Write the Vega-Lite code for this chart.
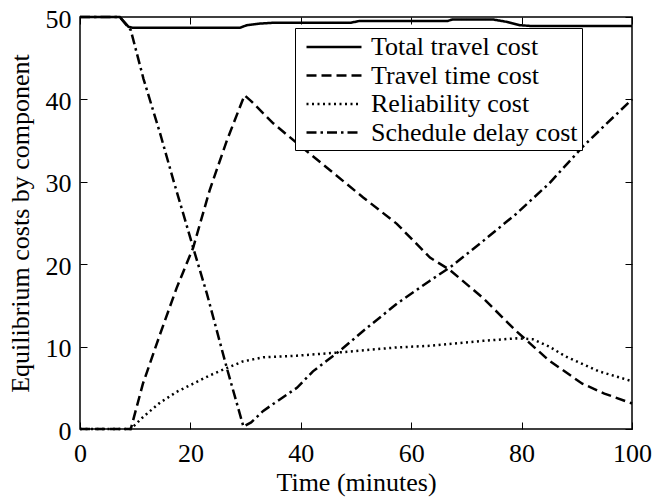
{
  "$schema": "https://vega.github.io/schema/vega-lite/v6.json",
  "width": 552,
  "height": 412,
  "autosize": {"type": "none"},
  "padding": {"left": 80, "top": 17, "right": 20, "bottom": 68},
  "background": "white",
  "config": {
    "font": "'Liberation Serif', 'DejaVu Serif', serif",
    "view": {"stroke": "black", "strokeWidth": 1.5},
    "axis": {
      "labelFont": "'Liberation Serif', 'DejaVu Serif', serif",
      "labelFontSize": 26,
      "labelColor": "black",
      "titleFont": "'Liberation Serif', 'DejaVu Serif', serif",
      "titleFontSize": 26,
      "titleFontWeight": "normal",
      "titleColor": "black",
      "tickColor": "black",
      "tickWidth": 1,
      "tickSize": -7,
      "grid": false,
      "domain": false
    },
    "legend": {"strokeWidth": 1}
  },
  "data": {
    "values": [
      {"t": 0, "v": 50, "s": "Total travel cost"},
      {"t": 7.2, "v": 50, "s": "Total travel cost"},
      {"t": 8.8, "v": 48.8, "s": "Total travel cost"},
      {"t": 9.5, "v": 48.7, "s": "Total travel cost"},
      {"t": 29, "v": 48.7, "s": "Total travel cost"},
      {"t": 30.2, "v": 49.0, "s": "Total travel cost"},
      {"t": 32.6, "v": 49.2, "s": "Total travel cost"},
      {"t": 35, "v": 49.3, "s": "Total travel cost"},
      {"t": 49, "v": 49.3, "s": "Total travel cost"},
      {"t": 50.5, "v": 49.5, "s": "Total travel cost"},
      {"t": 66.5, "v": 49.5, "s": "Total travel cost"},
      {"t": 67.5, "v": 49.7, "s": "Total travel cost"},
      {"t": 74.8, "v": 49.7, "s": "Total travel cost"},
      {"t": 77.4, "v": 49.4, "s": "Total travel cost"},
      {"t": 79.7, "v": 49.0, "s": "Total travel cost"},
      {"t": 82, "v": 48.9, "s": "Total travel cost"},
      {"t": 100, "v": 48.9, "s": "Total travel cost"},

      {"t": 0, "v": 0, "s": "Travel time cost"},
      {"t": 9.2, "v": 0, "s": "Travel time cost"},
      {"t": 11.4, "v": 5.5, "s": "Travel time cost"},
      {"t": 14.5, "v": 11.5, "s": "Travel time cost"},
      {"t": 17.5, "v": 17.1, "s": "Travel time cost"},
      {"t": 20.5, "v": 22, "s": "Travel time cost"},
      {"t": 23.5, "v": 29, "s": "Travel time cost"},
      {"t": 26.6, "v": 35, "s": "Travel time cost"},
      {"t": 29.8, "v": 40.5, "s": "Travel time cost"},
      {"t": 31, "v": 39.8, "s": "Travel time cost"},
      {"t": 35, "v": 37.1, "s": "Travel time cost"},
      {"t": 40, "v": 34.3, "s": "Travel time cost"},
      {"t": 45.3, "v": 31.4, "s": "Travel time cost"},
      {"t": 51.3, "v": 28.1, "s": "Travel time cost"},
      {"t": 57.4, "v": 24.9, "s": "Travel time cost"},
      {"t": 63.4, "v": 20.8, "s": "Travel time cost"},
      {"t": 67, "v": 19.3, "s": "Travel time cost"},
      {"t": 73, "v": 15.9, "s": "Travel time cost"},
      {"t": 79, "v": 11.9, "s": "Travel time cost"},
      {"t": 85, "v": 8.3, "s": "Travel time cost"},
      {"t": 91, "v": 5.5, "s": "Travel time cost"},
      {"t": 95, "v": 4.3, "s": "Travel time cost"},
      {"t": 100, "v": 3.1, "s": "Travel time cost"},

      {"t": 0, "v": 0, "s": "Reliability cost"},
      {"t": 9.2, "v": 0, "s": "Reliability cost"},
      {"t": 11.5, "v": 1.5, "s": "Reliability cost"},
      {"t": 14.5, "v": 3.2, "s": "Reliability cost"},
      {"t": 17.5, "v": 4.5, "s": "Reliability cost"},
      {"t": 20.5, "v": 5.5, "s": "Reliability cost"},
      {"t": 23.5, "v": 6.5, "s": "Reliability cost"},
      {"t": 26.6, "v": 7.4, "s": "Reliability cost"},
      {"t": 29.5, "v": 8.2, "s": "Reliability cost"},
      {"t": 33.2, "v": 8.7, "s": "Reliability cost"},
      {"t": 39.3, "v": 8.9, "s": "Reliability cost"},
      {"t": 47.1, "v": 9.3, "s": "Reliability cost"},
      {"t": 57.4, "v": 9.9, "s": "Reliability cost"},
      {"t": 63.4, "v": 10.1, "s": "Reliability cost"},
      {"t": 73, "v": 10.7, "s": "Reliability cost"},
      {"t": 79, "v": 11.0, "s": "Reliability cost"},
      {"t": 82, "v": 10.9, "s": "Reliability cost"},
      {"t": 85, "v": 10.0, "s": "Reliability cost"},
      {"t": 88, "v": 8.8, "s": "Reliability cost"},
      {"t": 94, "v": 7.0, "s": "Reliability cost"},
      {"t": 100, "v": 5.8, "s": "Reliability cost"},

      {"t": 0, "v": 50, "s": "Schedule delay cost"},
      {"t": 7.2, "v": 50, "s": "Schedule delay cost"},
      {"t": 9.2, "v": 48.4, "s": "Schedule delay cost"},
      {"t": 11.5, "v": 42.5, "s": "Schedule delay cost"},
      {"t": 14.5, "v": 35.9, "s": "Schedule delay cost"},
      {"t": 17, "v": 30, "s": "Schedule delay cost"},
      {"t": 19.2, "v": 25, "s": "Schedule delay cost"},
      {"t": 20.5, "v": 22, "s": "Schedule delay cost"},
      {"t": 23, "v": 16.4, "s": "Schedule delay cost"},
      {"t": 26.6, "v": 7.4, "s": "Schedule delay cost"},
      {"t": 29.6, "v": 0.3, "s": "Schedule delay cost"},
      {"t": 31, "v": 0.8, "s": "Schedule delay cost"},
      {"t": 33.2, "v": 2.2, "s": "Schedule delay cost"},
      {"t": 36, "v": 3.5, "s": "Schedule delay cost"},
      {"t": 39.3, "v": 5.0, "s": "Schedule delay cost"},
      {"t": 42.2, "v": 7.0, "s": "Schedule delay cost"},
      {"t": 47.1, "v": 9.5, "s": "Schedule delay cost"},
      {"t": 51.3, "v": 11.9, "s": "Schedule delay cost"},
      {"t": 57.4, "v": 15.2, "s": "Schedule delay cost"},
      {"t": 63.4, "v": 18.0, "s": "Schedule delay cost"},
      {"t": 67, "v": 19.6, "s": "Schedule delay cost"},
      {"t": 73, "v": 22.8, "s": "Schedule delay cost"},
      {"t": 79, "v": 26.1, "s": "Schedule delay cost"},
      {"t": 85, "v": 29.8, "s": "Schedule delay cost"},
      {"t": 91, "v": 34.2, "s": "Schedule delay cost"},
      {"t": 95, "v": 36.8, "s": "Schedule delay cost"},
      {"t": 100, "v": 40, "s": "Schedule delay cost"}
    ]
  },
  "layer": [
    {
      "mark": {"type": "line", "color": "black", "strokeWidth": 2.5, "clip": false},
      "encoding": {
        "x": {
          "field": "t", "type": "quantitative",
          "scale": {"domain": [0, 100], "nice": false, "zero": false},
          "axis": {"title": "Time (minutes)", "values": [0, 20, 40, 60, 80, 100], "labelPadding": 18, "titlePadding": 3, "labelFlush": false}
        },
        "y": {
          "field": "v", "type": "quantitative",
          "scale": {"domain": [0, 50], "nice": false},
          "axis": {"title": "Equilibrium costs by component", "values": [0, 10, 20, 30, 40, 50], "labelPadding": 16, "labelOffset": 2, "titlePadding": 12, "labelFlush": false}
        },
        "strokeDash": {
          "field": "s", "type": "nominal",
          "scale": {
            "domain": ["Total travel cost", "Travel time cost", "Reliability cost", "Schedule delay cost"],
            "range": [[1, 0], [10, 5], [2, 3.5], [10, 4, 2.5, 4]]
          },
          "legend": {
            "title": null,
            "orient": "none",
            "legendX": 215,
            "legendY": 11,
            "direction": "vertical",
            "fillColor": "white",
            "strokeColor": "black",
            "padding": 4,
            "labelFont": "'Liberation Serif', 'DejaVu Serif', serif",
            "labelFontSize": 26,
            "labelColor": "black",
            "labelOffset": 22,
            "rowPadding": 0.5,
            "symbolType": "M-2,0H2",
            "symbolSize": 756,
            "symbolStrokeWidth": 2.5,
            "symbolStrokeColor": "black",
            "symbolFillColor": "transparent",
            "symbolOffset": 20,
            "labelLimit": 400
          }
        },
        "order": {"field": "t", "type": "quantitative"}
      }
    },
    {
      "mark": {"type": "line", "opacity": 0},
      "encoding": {
        "x": {"field": "t", "type": "quantitative", "axis": {"orient": "top", "labels": false, "title": null, "values": [0, 20, 40, 60, 80, 100]}},
        "y": {"field": "v", "type": "quantitative", "axis": {"orient": "right", "labels": false, "title": null, "values": [0, 10, 20, 30, 40, 50]}}
      }
    }
  ],
  "resolve": {"axis": {"x": "independent", "y": "independent"}}
}
